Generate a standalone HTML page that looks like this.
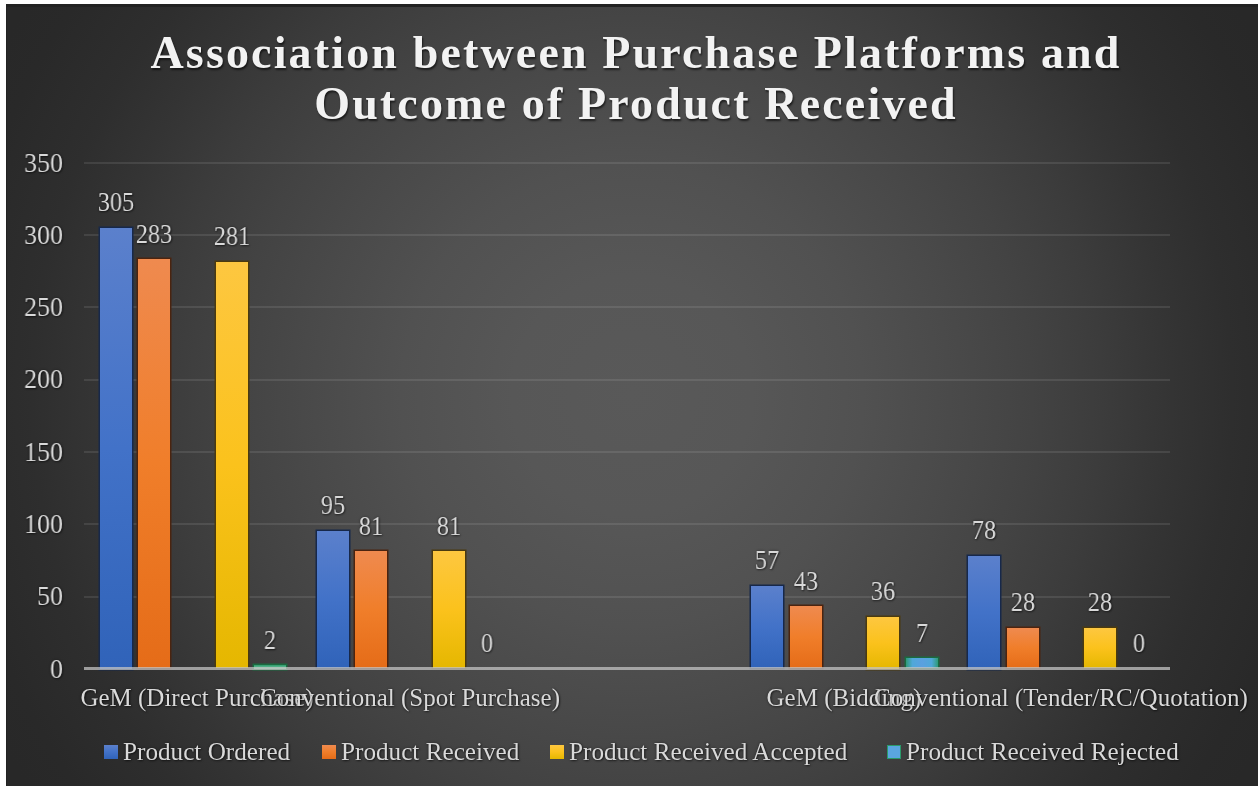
<!DOCTYPE html>
<html><head><meta charset="utf-8"><style>
html,body{-webkit-font-smoothing:antialiased;margin:0;padding:0;background:#fff;width:1258px;height:786px;overflow:hidden}
#c{position:absolute;left:6px;top:4px;width:1252px;height:782px;
background:radial-gradient(circle at 626px 391px,#595959 0px,#575757 120px,#515151 231px,#494949 330px,#434343 400px,#3c3c3c 470px,#343434 540px,#2e2e2e 600px,#292929 680px,#282828 720px);
box-shadow:inset 1px 3px 0 -0px #222, inset 1px 0 0 #1c1c1c;overflow:hidden}
body>div{position:absolute;font-family:"Liberation Serif",serif;will-change:transform}
.abs{position:absolute}
.ti{left:9.5px;width:1252px;text-align:center;color:#f2f2f2;font-weight:bold;font-size:46px;letter-spacing:2.15px;line-height:56px;white-space:nowrap;text-shadow:1px 2px 2px rgba(0,0,0,.6)}
.g{left:84px;width:1086px;height:1.6px;background:rgba(255,255,255,.095)}
.ax{left:84px;width:1086px;top:667.1px;height:3px;background:rgba(195,195,195,.75)}
.yl{left:0;width:63px;text-align:right;color:#d9d9d9;font-size:27px;transform:scaleX(.96);transform-origin:100% 50%;line-height:30px;text-shadow:0 0 3px rgba(0,0,0,.45),1px 1px 2px rgba(0,0,0,.5)}
.bar{box-shadow:0 0 0 1.5px rgba(0,0,0,.5)}
.bar.b{box-shadow:0 0 0 1.5px #17284a}
.bar.o{box-shadow:0 0 0 1.5px #4a2410}
.bar.y{box-shadow:0 0 0 1.5px #4a3a10}
.b{background:linear-gradient(#5b80cc,#4272c8 50%,#3063b9)}
.o{background:linear-gradient(#ef8a4f,#f07e2a 50%,#e56c18)}
.y{background:linear-gradient(#fdc740,#fbc21c 50%,#e5b700)}
.t2{}
.bar.tl{background:linear-gradient(90deg,#2f9a78,#4fa8d8 20%,#5aa0e0 50%,#4fa8d8 80%,#2f9a78);box-shadow:0 0 0 1.5px #1a6a40}
.dl{width:60px;text-align:center;color:#d9d9d9;font-size:27px;transform:scaleX(.9);line-height:30px;text-shadow:0 0 3px rgba(0,0,0,.45),1px 1px 2px rgba(0,0,0,.5)}
.cl{width:500px;text-align:center;text-shadow:0 0 3px rgba(0,0,0,.45),1px 1px 2px rgba(0,0,0,.5);top:682.8px;color:#d9d9d9;font-size:25px;line-height:30px;white-space:nowrap}
.lk{top:745px;width:14px;height:14px}
.lk.tl{background:#5aa6e0;border:1.5px solid #2a9a6a;box-sizing:border-box}
.lt{text-shadow:0 0 3px rgba(0,0,0,.45),1px 1px 2px rgba(0,0,0,.5);top:737.1px;color:#d9d9d9;font-size:25.2px;line-height:30px;white-space:nowrap}
</style></head><body>
<div id="c"></div>
<div class="ti" style="top:25px">Association between Purchase Platforms and</div>
<div class="ti" style="top:75.8px">Outcome of Product Received</div>
<div class="g" style="top:595.50px"></div>
<div class="g" style="top:523.20px"></div>
<div class="g" style="top:450.90px"></div>
<div class="g" style="top:378.60px"></div>
<div class="g" style="top:306.30px"></div>
<div class="g" style="top:234.00px"></div>
<div class="g" style="top:161.70px"></div>
<div class="yl" style="top:653.60px">0</div>
<div class="yl" style="top:581.30px">50</div>
<div class="yl" style="top:509.00px">100</div>
<div class="yl" style="top:436.70px">150</div>
<div class="yl" style="top:364.40px">200</div>
<div class="yl" style="top:292.10px">250</div>
<div class="yl" style="top:219.80px">300</div>
<div class="yl" style="top:147.50px">350</div>
<div class="bar b" style="left:99.60px;top:227.57px;width:32.0px;height:441.03px"></div>
<div class="dl" style="left:85.60px;top:186.77px">305</div>
<div class="bar o" style="left:138.25px;top:259.38px;width:32.0px;height:409.22px"></div>
<div class="dl" style="left:124.25px;top:218.58px">283</div>
<div class="bar y" style="left:215.55px;top:262.27px;width:32.0px;height:406.33px"></div>
<div class="dl" style="left:201.55px;top:221.47px">281</div>
<div class="bar tl" style="left:254.20px;top:664.51px;width:32.0px;height:4.09px;background:linear-gradient(#2f9a6c,#7fd0ac)"></div>
<div class="dl" style="left:240.20px;top:624.91px">2</div>
<div class="bar b" style="left:316.80px;top:531.23px;width:32.0px;height:137.37px"></div>
<div class="dl" style="left:302.80px;top:490.43px">95</div>
<div class="bar o" style="left:355.45px;top:551.47px;width:32.0px;height:117.13px"></div>
<div class="dl" style="left:341.45px;top:510.67px">81</div>
<div class="bar y" style="left:432.75px;top:551.47px;width:32.0px;height:117.13px"></div>
<div class="dl" style="left:418.75px;top:510.67px">81</div>
<div class="dl" style="left:457.40px;top:627.80px">0</div>
<div class="bar b" style="left:751.20px;top:586.18px;width:32.0px;height:82.42px"></div>
<div class="dl" style="left:737.20px;top:545.38px">57</div>
<div class="bar o" style="left:789.85px;top:606.42px;width:32.0px;height:62.18px"></div>
<div class="dl" style="left:775.85px;top:565.62px">43</div>
<div class="bar y" style="left:867.15px;top:616.54px;width:32.0px;height:52.06px"></div>
<div class="dl" style="left:853.15px;top:575.74px">36</div>
<div class="bar tl" style="left:905.80px;top:658.48px;width:32.0px;height:10.12px"></div>
<div class="dl" style="left:891.80px;top:617.68px">7</div>
<div class="bar b" style="left:968.40px;top:555.81px;width:32.0px;height:112.79px"></div>
<div class="dl" style="left:954.40px;top:515.01px">78</div>
<div class="bar o" style="left:1007.05px;top:628.11px;width:32.0px;height:40.49px"></div>
<div class="dl" style="left:993.05px;top:587.31px">28</div>
<div class="bar y" style="left:1084.35px;top:628.11px;width:32.0px;height:40.49px"></div>
<div class="dl" style="left:1070.35px;top:587.31px">28</div>
<div class="dl" style="left:1109.00px;top:627.80px">0</div>
<div class="ax"></div>
<div class="cl" style="left:-52.90px">GeM (Direct Purchase)</div>
<div class="cl" style="left:159.80px">Conventional (Spot Purchase)</div>
<div class="cl" style="left:594.20px">GeM (Bidding)</div>
<div class="cl" style="left:811.40px">Conventional (Tender/RC/Quotation)</div>
<div class="lk b" style="left:103.50px"></div><div class="lt" style="left:122.50px">Product Ordered</div>
<div class="lk o" style="left:322.00px"></div><div class="lt" style="left:341.00px">Product Received</div>
<div class="lk y" style="left:549.80px"></div><div class="lt" style="left:568.80px">Product Received Accepted</div>
<div class="lk tl" style="left:887.30px"></div><div class="lt" style="left:906.30px">Product Received Rejected</div>
</body></html>
